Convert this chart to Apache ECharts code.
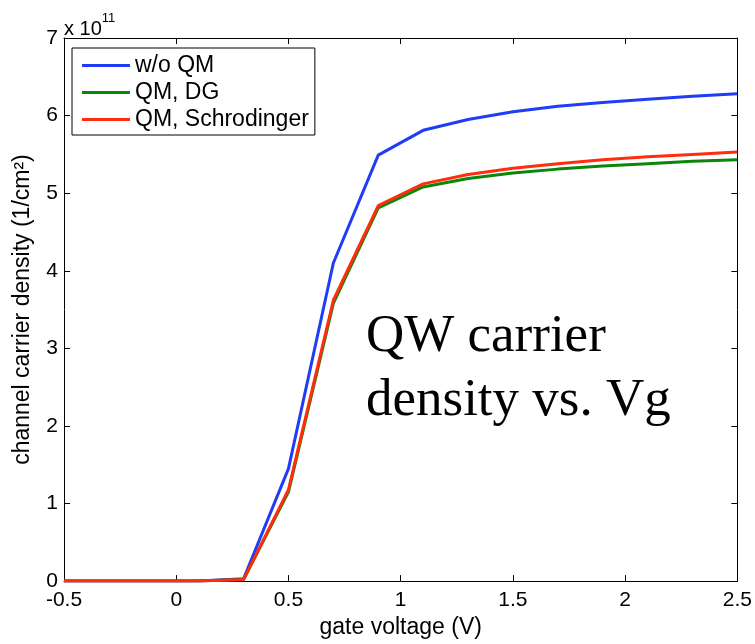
<!DOCTYPE html>
<html>
<head>
<meta charset="utf-8">
<script src="https://cdn.jsdelivr.net/npm/echarts@6/dist/echarts.min.js"></script>
<style>
  html, body { margin: 0; padding: 0; background: #fff; }
  #chart { width: 755px; height: 644px; }
</style>
</head>
<body>
<div id="chart"></div>
<script>
// Gate voltage sweep (V)
const gateVoltage = [-0.5, -0.3, -0.1, 0.1, 0.3, 0.5, 0.7, 0.9, 1.1, 1.3, 1.5, 1.7, 1.9, 2.1, 2.3, 2.5];
// Channel carrier density, in units of 1e11 cm^-2
const noQM        = [0, 0, 0, 0, 0.03, 1.45, 4.10, 5.49, 5.81, 5.95, 6.05, 6.12, 6.17, 6.21, 6.25, 6.28];
const qmDG        = [0, 0, 0, 0, 0.02, 1.15, 3.58, 4.81, 5.08, 5.19, 5.26, 5.31, 5.35, 5.38, 5.41, 5.43];
const qmSchrod    = [0, 0, 0, 0, 0.02, 1.18, 3.62, 4.84, 5.12, 5.24, 5.32, 5.38, 5.43, 5.47, 5.50, 5.53];
const seriesNames = ['w/o QM', 'QM, DG', 'QM, Schrodinger'];
const seriesColors = ['#1f3cf6', '#0b860b', '#ff2d0d'];
const xTicks = [-0.5, 0, 0.5, 1, 1.5, 2, 2.5];
const yTicks = [0, 1, 2, 3, 4, 5, 6, 7];

const pairs = ys => gateVoltage.map((x, i) => [x, ys[i]]);
const font = 'Liberation Sans, Arial, sans-serif';

const tickCommon = () => ({
  axisLine: { show: true, onZero: false, lineStyle: { color: '#000', width: 1 } },
  axisTick: { show: true, inside: true, length: 6, lineStyle: { color: '#000' } },
  splitLine: { show: false }
});

const chart = echarts.init(document.getElementById('chart'), null, { renderer: 'canvas' });
chart.setOption({
  animation: false,
  backgroundColor: '#fff',
  grid: { left: 64, right: 17, top: 38, bottom: 59 },
  xAxis: [
    Object.assign(tickCommon(), {
      type: 'value', min: -0.5, max: 2.5, interval: 0.5, position: 'bottom',
      name: 'gate voltage (V)', nameLocation: 'middle', nameGap: 33,
      nameTextStyle: { fontFamily: font, fontSize: 23, color: '#000' },
      axisLabel: { fontFamily: font, fontSize: 21, color: '#000', margin: 9,
        formatter: v => xTicks.includes(v) ? String(v) : '' }
    }),
    Object.assign(tickCommon(), {
      type: 'value', min: -0.5, max: 2.5, interval: 0.5, position: 'top',
      axisLabel: { show: false }
    })
  ],
  yAxis: [
    Object.assign(tickCommon(), {
      type: 'value', min: 0, max: 7, interval: 1, position: 'left',
      name: 'channel carrier density (1/cm²)', nameLocation: 'middle', nameGap: 30,
      nameTextStyle: { fontFamily: font, fontSize: 23, color: '#000' },
      axisLabel: { fontFamily: font, fontSize: 21, color: '#000', margin: 6,
        formatter: v => yTicks.includes(v) ? String(v) : '' }
    }),
    Object.assign(tickCommon(), {
      type: 'value', min: 0, max: 7, interval: 1, position: 'right',
      axisLabel: { show: false }
    })
  ],
  legend: {
    orient: 'vertical', left: 72, top: 48,
    backgroundColor: '#fff', borderColor: '#000', borderWidth: 1, borderRadius: 0,
    padding: [6, 6, 4, 10], itemGap: 4, itemWidth: 48, itemHeight: 3,
    textStyle: { fontFamily: font, fontSize: 23, color: '#000' },
    data: seriesNames.map(n => ({ name: n, icon: 'rect' }))
  },
  graphic: [
    { type: 'text', left: 64, top: 12,
      style: { text: '{b|x 10}{s|11}', rich: {
        b: { fontFamily: font, fontSize: 20, fill: '#000', verticalAlign: 'bottom' },
        s: { fontFamily: font, fontSize: 13, fill: '#000', padding: [0, 0, 14, 0] } } } },
    { type: 'text', left: 366, top: 305,
      style: { text: 'QW carrier\ndensity vs. Vg', fontFamily: 'Liberation Serif, Times New Roman, serif',
        fontSize: 53, lineHeight: 64, fill: '#000' } }
  ],
  series: seriesNames.map((name, k) => ({
    name, type: 'line', data: pairs([noQM, qmDG, qmSchrod][k]), symbol: 'none',
    lineStyle: { color: seriesColors[k], width: 3 }, itemStyle: { color: seriesColors[k] }
  }))
});
</script>
</body>
</html>
